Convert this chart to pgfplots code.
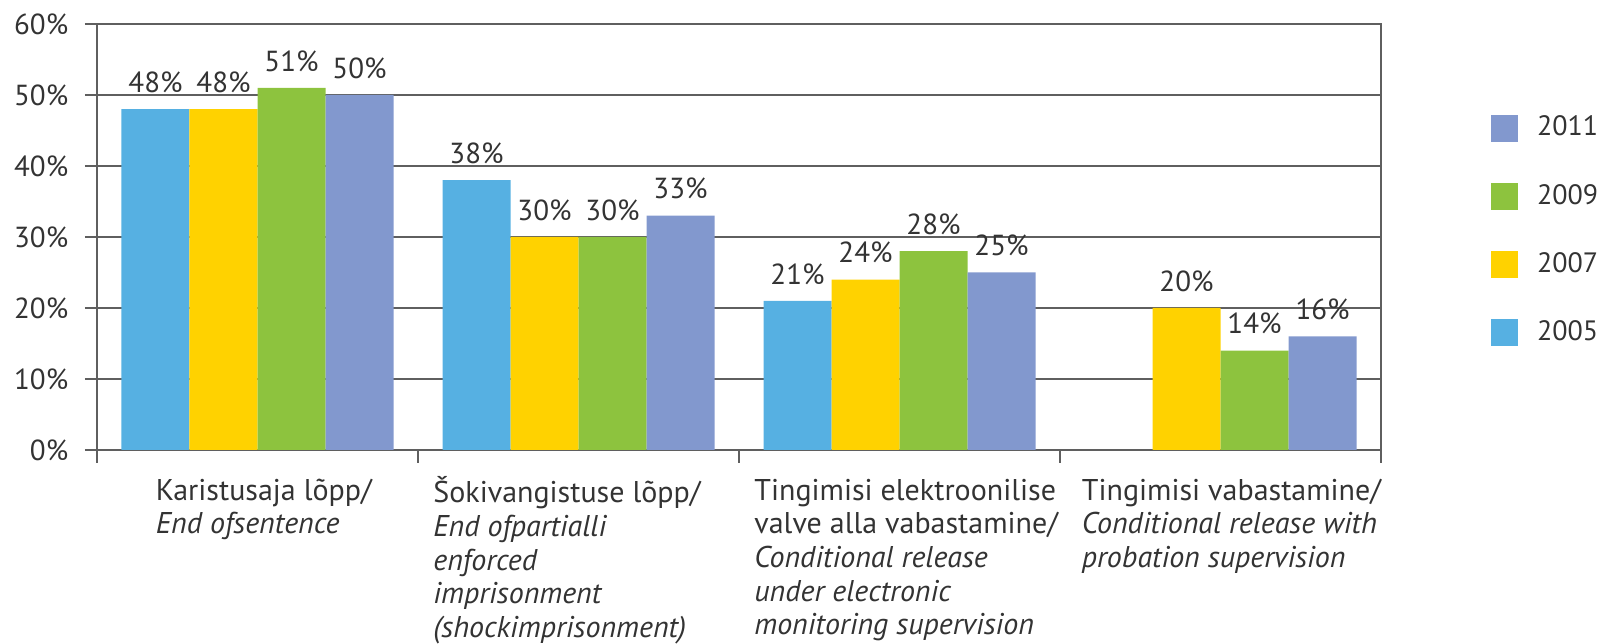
\documentclass[border=0pt]{standalone}
\usepackage{fontspec}
\setmainfont{PT Sans}
\usepackage{pgfplots}
\pgfplotsset{compat=1.18}
\definecolor{c05}{RGB}{86,176,226}
\definecolor{c07}{RGB}{255,210,0}
\definecolor{c09}{RGB}{141,195,62}
\definecolor{c11}{RGB}{130,152,206}
\definecolor{txt}{RGB}{51,51,51}
\definecolor{gridc}{RGB}{95,95,95}
\newcommand{\lab}[2]{\begin{tabular}{@{\hspace{#1}}l@{}}#2\end{tabular}}
\newcommand{\lfont}{\fontsize{14.5}{17}\selectfont}
\newcommand{\gfont}{\fontsize{14}{16}\selectfont}
\newcommand{\cfont}{\fontsize{15}{16.8}\selectfont}
\pgfplotsset{sq legend/.style={legend image code/.code={\fill[##1] (0pt,-7.05pt) rectangle (13.5pt,6.45pt);}}}
\begin{document}
\begin{tikzpicture}
\begin{axis}[
 scale only axis, width=642pt, height=213pt,
 xmin=-0.5, xmax=3.5, ymin=0, ymax=60,
 ybar=0pt, bar width=34pt,
 xtick={0,1,2,3},
 xticklabels={
  {\lab{24pt}{Karistusaja lõpp/\\\textit{End ofsentence}}},
  {\lab{2.25pt}{Šokivangistuse lõpp/\\\textit{End ofpartialli}\\\textit{enforced}\\\textit{imprisonment}\\\textit{(shockimprisonment)}}},
  {\lab{2.25pt}{Tingimisi elektroonilise\\valve alla vabastamine/\\\textit{Conditional release}\\\textit{under electronic}\\\textit{monitoring supervision}}},
  {\lab{5.5pt}{Tingimisi vabastamine/\\\textit{Conditional release with}\\\textit{probation supervision}}}
 },
 minor xtick={-0.5,0.5,1.5,2.5,3.5},
 major x tick style={draw=none},
 minor tick length=6.5pt, major tick length=6pt,
 tick align=outside,
 xtick pos=bottom, ytick pos=left,
 ytick={0,10,...,60},
 ymajorgrids, grid style={gridc, line width=0.75pt},
 axis line style={gridc, line width=0.75pt},
 every tick/.style={gridc, line width=0.75pt},
 yticklabel={\pgfmathprintnumber{\tick}\%},
 /pgf/number format/assume math mode=true,
 tick label style={font=\lfont, text=txt},
 yticklabel style={anchor=east, inner sep=0pt, xshift=-8.2pt},
 xticklabel style={font=\cfont, anchor=north west, inner sep=0pt, xshift=-75pt, yshift=-7.2pt},
 nodes near coords={\pgfmathprintnumber{\pgfplotspointmeta}\%},
 nodes near coords style={font=\lfont, text=txt, anchor=south, inner sep=0pt, yshift=8pt},
 legend style={draw=none, fill=none, at={(axis description cs:1,0.7935)}, anchor=north west, xshift=55pt,
   inner sep=0pt, outer sep=0pt, row sep=18.6pt, font=\gfont, text=txt, cells={anchor=west},
   /tikz/every odd column/.append style={column sep=7.5pt}},
 reverse legend,
 clip=false,
]
\addplot[fill=c05, draw=none, sq legend] coordinates {(0,48) (1,38) (2,21)};
\addlegendentry{2005}
\addplot[fill=c07, draw=none, sq legend] coordinates {(0,48) (1,30) (2,24) (3,20)};
\addlegendentry{2007}
\addplot[fill=c09, draw=none, sq legend] coordinates {(0,51) (1,30) (2,28) (3,14)};
\addlegendentry{2009}
\addplot[fill=c11, draw=none, sq legend] coordinates {(0,50) (1,33) (2,25) (3,16)};
\addlegendentry{2011}
\coordinate (bl) at (rel axis cs:0,0);
\coordinate (tr) at (rel axis cs:1,1);
\end{axis}
\pgfresetboundingbox
\path ([shift={(-48.5pt,-97pt)}]bl) rectangle ([shift={(114.5pt,12pt)}]tr);
\end{tikzpicture}
\end{document}
